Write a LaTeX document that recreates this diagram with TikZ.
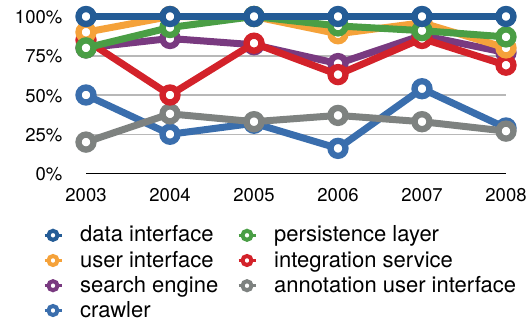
\documentclass[tikz,border=0pt]{standalone}
\usepackage{fontspec}
\setmainfont{TeX Gyre Heros}
\definecolor{cData}{HTML}{245C96}
\definecolor{cUser}{HTML}{F5A23A}
\definecolor{cSearch}{HTML}{793A80}
\definecolor{cCrawl}{HTML}{3A6EAD}
\definecolor{cPers}{HTML}{4A9E45}
\definecolor{cInteg}{HTML}{D3222A}
\definecolor{cAnno}{HTML}{7E8280}
\definecolor{cGrid}{HTML}{B8B8B8}
\newcommand\myseries[3]{%
  \foreach \v [count=\i from 0] in {#3} {
    \coordinate (#1-\i) at ({86+84*\i},{173.5-1.57*\v});
  }
  \draw[serline,#2] (#1-0) -- (#1-1) -- (#1-2) -- (#1-3) -- (#1-4) -- (#1-5);
  \foreach \i in {0,...,5} {\node[mk,draw=#2] (#1-m\i) at (#1-\i) {};}
}
\newcommand\mylegend[5]{%
  \coordinate (#1-a) at ({#3-8.5},#4);
  \coordinate (#1-b) at ({#3+8.5},#4);
  \draw[#2,line width=3.5pt] (#1-a) -- (#1-b);
  \node[lmk,draw=#2] (#1-lm) at (#3,#4) {};
  \node[legtext,anchor=base west] (#1-lt) at ({#3+27},{#4+6.5}) {#5};
}
\begin{document}
\begin{tikzpicture}[x=1pt,y=-1pt,
  serline/.style={line width=7pt,line join=round,line cap=round},
  mk/.style={circle,fill=white,line width=6.3pt,minimum size=15pt,inner sep=0pt},
  lmk/.style={circle,fill=white,line width=4pt,minimum size=9pt,inner sep=0pt},
  axlab/.style={font=\fontsize{18.5}{20}\selectfont,inner sep=0pt},
  legtext/.style={font=\fontsize{22}{24}\selectfont,inner sep=0pt},
  gridline/.style={cGrid,line width=1.5pt}]
\useasboundingbox (0,0) rectangle (528,325);
% grid
\foreach \p [count=\k] in {25,50,75,100} {
  \coordinate (gl\k) at (86,{173.5-1.57*\p});
  \coordinate (gr\k) at (506,{173.5-1.57*\p});
  \draw[gridline] (gl\k) -- (gr\k);
}
\coordinate (ax0) at (86,173.5);
\coordinate (ax1) at (506,173.5);
\draw[black,line width=1.4pt] (ax0) -- (ax1);
% y labels
\foreach \p in {0,25,50,75,100} {
  \node[axlab,anchor=east] (yl\p) at (62.5,{173.5-1.57*\p+0.8}) {\p\%};
}
% x labels
\foreach \yr [count=\i from 0] in {2003,2004,2005,2006,2007,2008} {
  \node[axlab] (xl\yr) at ({86+84*\i},195) {\yr};
}
% series (back to front)
\myseries{crawl}{cCrawl}{50,25,32,16,54,29}
\myseries{anno}{cAnno}{20,38,33,37,33,27}
\myseries{search}{cSearch}{80,86,82,70,88,77}
\myseries{integ}{cInteg}{85,50,83,63,86,69}
\myseries{user}{cUser}{90,100,100,89,96,80}
\myseries{pers}{cPers}{80,93,100,94,91,87}
\myseries{data}{cData}{100,100,100,100,100,100}
% legend
\mylegend{L1}{cData}{53}{235.3}{data interface}
\mylegend{L2}{cUser}{53}{260.5}{user interface}
\mylegend{L3}{cSearch}{53}{285.7}{search engine}
\mylegend{L4}{cCrawl}{53}{310.5}{crawler}
\mylegend{L5}{cPers}{247}{235.3}{persistence layer}
\mylegend{L6}{cInteg}{247}{260.5}{integration service}
\mylegend{L7}{cAnno}{247}{285.7}{annotation user interface}
\end{tikzpicture}
\end{document}
